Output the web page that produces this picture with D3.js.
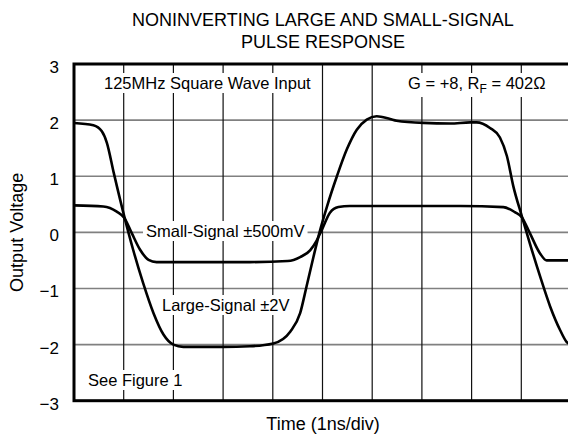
<!DOCTYPE html>
<html>
<head>
<meta charset="utf-8">
<script src="https://cdn.jsdelivr.net/npm/d3@7"></script>
<style>
  body { margin: 0; background: #fff; }
  svg { display: block; font-family: "Liberation Sans", Arial, sans-serif; }
</style>
</head>
<body>
<div id="chart"></div>
<script>
// time in ns (1 div = 1 ns), output in volts
const largeSignal = [
  [0, 1.95], [0.39, 1.91], [0.56, 1.8], [0.66, 1.6], [0.8, 1.06],
  [1.01, 0.29], [1.19, -0.31], [1.39, -0.9], [1.6, -1.44], [1.8, -1.82],
  [2.0, -2.0], [2.2, -2.04], [3.0, -2.04], [3.54, -2.03], [4.01, -1.98],
  [4.35, -1.77], [4.55, -1.44], [4.68, -0.96], [4.82, -0.43], [4.94, 0.0],
  [5.09, 0.46], [5.29, 1.0], [5.49, 1.48], [5.69, 1.83], [5.89, 2.01],
  [6.09, 2.07], [6.36, 2.02], [6.49, 1.99], [7.03, 1.95], [7.57, 1.94],
  [7.97, 1.96], [8.1, 1.96], [8.37, 1.86], [8.57, 1.69], [8.71, 1.36],
  [8.84, 0.82], [9.01, 0.29], [9.17, -0.19], [9.38, -0.79], [9.58, -1.32],
  [9.78, -1.74], [9.91, -1.95], [10, -2.0]
];
const smallSignal = [
  [0, 0.48], [0.59, 0.46], [0.86, 0.37], [1.01, 0.26], [1.16, -0.01],
  [1.33, -0.31], [1.5, -0.49], [1.66, -0.53], [2.5, -0.53], [3.54, -0.53],
  [4.3, -0.51], [4.55, -0.44], [4.75, -0.32], [4.88, -0.15], [4.98, 0.03],
  [5.15, 0.35], [5.32, 0.45], [5.55, 0.47], [7.77, 0.47], [8.64, 0.45],
  [8.87, 0.36], [9.01, 0.27], [9.17, -0.01], [9.38, -0.38], [9.51, -0.5],
  [9.7, -0.5], [10, -0.5]
];
const yTicks = [-3, -2, -1, 0, 1, 2, 3];
const xGrid = [1, 2, 3, 4, 5, 6, 7, 8, 9];
const titleLines = ["NONINVERTING LARGE AND SMALL-SIGNAL", "PULSE RESPONSE"];

const width = 568;
const height = 437;
const plotLeft = 74, plotRight = 571, plotTop = 64, plotBottom = 400.7;

const svg = d3.select("#chart")
  .append("svg")
  .attr("width", width)
  .attr("height", height)
  .attr("viewBox", [0, 0, width, height]);

const x = d3.scaleLinear().domain([0, 10]).range([plotLeft, plotRight]);
const y = d3.scaleLinear().domain([-3, 3]).range([plotBottom, plotTop]);

// title
svg.append("g")
  .selectAll("text")
  .data(titleLines)
  .join("text")
  .attr("x", 323)
  .attr("y", (d, i) => 26 + i * 22)
  .attr("text-anchor", "middle")
  .attr("font-size", 18)
  .text(d => d);

// grid
svg.append("g")
  .selectAll("line")
  .data(yTicks.slice(1, -1))
  .join("line")
  .attr("x1", plotLeft).attr("x2", plotRight)
  .attr("y1", d => y(d)).attr("y2", d => y(d))
  .attr("stroke", "#808080")
  .attr("stroke-width", 1.6);

svg.append("g")
  .selectAll("line")
  .data(xGrid)
  .join("line")
  .attr("x1", d => x(d)).attr("x2", d => x(d))
  .attr("y1", plotTop).attr("y2", plotBottom)
  .attr("stroke", "#111")
  .attr("stroke-width", 1.2);

// y tick labels
const yAxis = svg.append("g")
  .attr("transform", `translate(${plotLeft},0)`)
  .call(d3.axisLeft(y).tickValues(yTicks).tickSize(0).tickPadding(15).tickFormat(d3.format("d")));
yAxis.select(".domain").remove();
yAxis.selectAll("text")
  .attr("font-size", 17)
  .attr("font-family", "Liberation Sans, Arial, sans-serif")
  .attr("fill", "#000")
  .attr("dy", "0.5em");

// annotations with white boxes
function note(xPos, yPos, parts) {
  const g = svg.append("g");
  const rect = g.append("rect").attr("fill", "#fff");
  const t = g.append("text")
    .attr("x", xPos)
    .attr("y", yPos)
    .attr("font-size", 16.5);
  parts.forEach(p => {
    const s = t.append("tspan").text(p.text);
    if (p.dy) s.attr("dy", p.dy);
    if (p.size) s.attr("font-size", p.size);
  });
  const b = t.node().getBBox();
  rect.attr("x", b.x - 3).attr("y", b.y - 1)
    .attr("width", b.width + 6).attr("height", b.height + 2);
}

note(104, 89, [{ text: "125MHz Square Wave Input" }]);
note(408, 89, [
  { text: "G = +8, R" },
  { text: "F", dy: 4, size: 12 },
  { text: " = 402Ω", dy: -4 }
]);
note(146, 237, [{ text: "Small-Signal ±500mV" }]);
note(162, 311, [{ text: "Large-Signal ±2V" }]);
note(88, 386, [{ text: "See Figure 1" }]);

// curves
const line = d3.line()
  .x(d => x(d[0]))
  .y(d => y(d[1]))
  .curve(d3.curveMonotoneX);

[largeSignal, smallSignal].forEach(series => {
  svg.append("path")
    .datum(series)
    .attr("fill", "none")
    .attr("stroke", "#000")
    .attr("stroke-width", 2.6)
    .attr("stroke-linejoin", "round")
    .attr("d", line);
});

// frame
svg.append("rect")
  .attr("x", plotLeft).attr("y", plotTop)
  .attr("width", plotRight - plotLeft).attr("height", plotBottom - plotTop)
  .attr("fill", "none")
  .attr("stroke", "#000")
  .attr("stroke-width", 3);

// axis titles
svg.append("text")
  .attr("transform", `translate(23,${(plotTop + plotBottom) / 2}) rotate(-90)`)
  .attr("text-anchor", "middle")
  .attr("font-size", 18)
  .text("Output Voltage");

svg.append("text")
  .attr("x", 323)
  .attr("y", 430)
  .attr("text-anchor", "middle")
  .attr("font-size", 18)
  .text("Time (1ns/div)");
</script>
</body>
</html>
